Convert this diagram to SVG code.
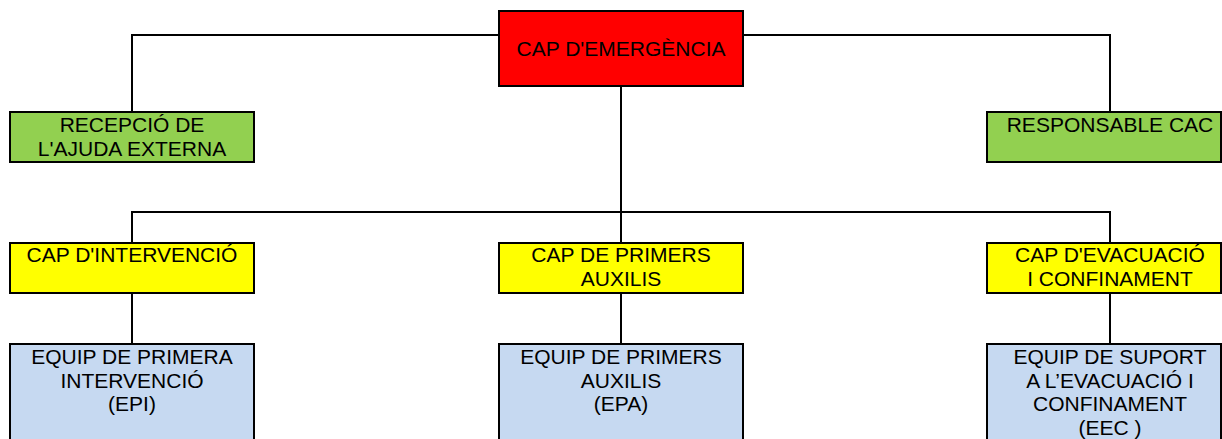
<svg xmlns="http://www.w3.org/2000/svg" width="1222" height="439" viewBox="0 0 1222 439">
<style>
.box{stroke:#000;stroke-width:2}
.red{fill:#FF0000}
.green{fill:#92D050}
.yellow{fill:#FFFF00}
.blue{fill:#C6D9F1}
.t{font-family:"Liberation Sans",Arial,sans-serif;font-size:21px;fill:#000;text-anchor:middle}
.c{fill:none;stroke:#000;stroke-width:2}
</style>
<rect width="1222" height="439" fill="#fff"/>
<g id="connectors">
<path class="c" d="M499,35H132V112"/>
<path class="c" d="M743,35H1110V112"/>
<path class="c" d="M621,86V243"/>
<path class="c" d="M132,243V212H1110V243"/>
<path class="c" d="M132,293V344"/>
<path class="c" d="M621,293V344"/>
<path class="c" d="M1110,293V344"/>
</g>
<g id="cap-emergencia">
<rect class="box red" x="499" y="11" width="244" height="75"/>
<text class="t" x="621" y="55.5">CAP D'EMERGÈNCIA</text>
</g>
<g id="recepcio">
<rect class="box green" x="10" y="112" width="244" height="50"/>
<text class="t" x="132" y="132">RECEPCIÓ DE</text>
<text class="t" x="132" y="155.5">L'AJUDA EXTERNA</text>
</g>
<g id="responsable-cac">
<rect class="box green" x="987" y="112" width="234" height="50"/>
<text class="t" x="1110" y="132">RESPONSABLE CAC</text>
</g>
<g id="cap-intervencio">
<rect class="box yellow" x="10" y="243" width="244" height="50"/>
<text class="t" x="132" y="262">CAP D'INTERVENCIÓ</text>
</g>
<g id="cap-primers-auxilis">
<rect class="box yellow" x="499" y="243" width="244" height="50"/>
<text class="t" x="621" y="262">CAP DE PRIMERS</text>
<text class="t" x="621" y="285.5">AUXILIS</text>
</g>
<g id="cap-evacuacio">
<rect class="box yellow" x="987" y="243" width="234" height="50"/>
<text class="t" x="1110" y="262">CAP D'EVACUACIÓ</text>
<text class="t" x="1110" y="285.5">I CONFINAMENT</text>
</g>
<g id="epi">
<rect class="box blue" x="10" y="344" width="244" height="100"/>
<text class="t" x="132" y="364">EQUIP DE PRIMERA</text>
<text class="t" x="132" y="387.5">INTERVENCIÓ</text>
<text class="t" x="132" y="411">(EPI)</text>
</g>
<g id="epa">
<rect class="box blue" x="499" y="344" width="244" height="100"/>
<text class="t" x="621" y="364">EQUIP DE PRIMERS</text>
<text class="t" x="621" y="387.5">AUXILIS</text>
<text class="t" x="621" y="411">(EPA)</text>
</g>
<g id="eec">
<rect class="box blue" x="987" y="344" width="234" height="100"/>
<text class="t" x="1110" y="364">EQUIP DE SUPORT</text>
<text class="t" x="1110" y="387.5">A L’EVACUACIÓ I</text>
<text class="t" x="1110" y="411">CONFINAMENT</text>
<text class="t" x="1110" y="434.5">(EEC )</text>
</g>
</svg>
